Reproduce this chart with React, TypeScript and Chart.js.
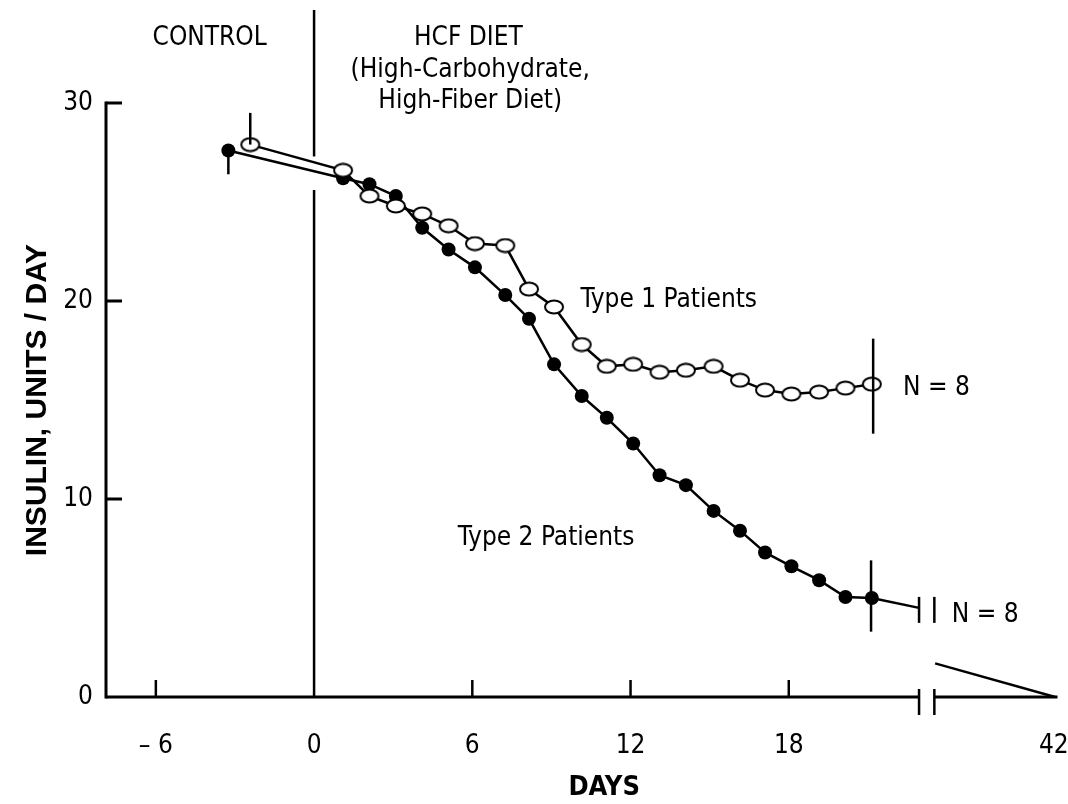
import React, { useEffect, useRef } from "react";
import { Chart, registerables } from "chart.js";

Chart.register(...registerables);

// ---------- data ----------
const days = [1.1, 2.1, 3.1, 4.1, 5.1, 6.1, 7.25, 8.15, 9.1, 10.15, 11.1, 12.1, 13.1, 14.1, 15.15, 16.15, 17.1, 18.1, 19.15, 20.15, 21.15];
const type1ControlDay = -2.42;
const type2ControlDay = -3.25;
const type1ControlValue = 27.9;
const type2ControlValue = 27.6;
const type1Values = [26.6, 25.3, 24.8, 24.4, 23.8, 22.9, 22.8, 20.6, 19.7, 17.8, 16.7, 16.8, 16.4, 16.5, 16.7, 16.0, 15.5, 15.3, 15.4, 15.6, 15.8];
const type2Values = [26.2, 25.9, 25.3, 23.7, 22.6, 21.7, 20.3, 19.1, 16.8, 15.2, 14.1, 12.8, 11.2, 10.7, 9.4, 8.4, 7.3, 6.6, 5.9, 5.05, 5.0];

// broken axis: day 42 sits at axis position 28
const xTickValues = [-6, 0, 6, 12, 18, 42];
const xTickLabels = ["– 6", "0", "6", "12", "18", "42"];
const day42AxisPos = 28.05;
const axisBreakPos = [22.94, 23.52];
const type2TailX = [21.15, 22.94];
const type2TailY = [5.0, 4.5];
const type2FinalX = [23.55, 28.1];
const type2FinalY = [1.7, 0];

// error bars
const errType1X = [-2.42, 21.2];
const errType1Low = [27.9, 13.3];
const errType1High = [29.5, 18.1];
const errType2X = [-3.25, 21.12];
const errType2Low = [26.4, 3.3];
const errType2High = [27.6, 6.9];

// annotations
const noteTexts = ["CONTROL", "HCF DIET", "(High-Carbohydrate,", "High-Fiber Diet)", "Type 1 Patients", "Type 2 Patients", "N = 8", "N = 8"];
const noteX = [-3.96, 5.85, 5.92, 5.92, 13.45, 8.8, 23.6, 25.45];
const noteY = [33.28, 33.28, 31.67, 30.1, 20.05, 8.03, 15.6, 4.14];
const xTitle = "DAYS";
const xTitlePos = { x: 11.0, y: -4.62 };

const X_MIN = -7.89;
const X_MAX = 28.19;

const NARROW = "'Liberation Sans Narrow', 'Arial Narrow', 'DejaVu Sans Condensed', 'Liberation Sans', sans-serif";
const WIDE = "'Liberation Sans', Arial, sans-serif";

function makeOpenMarker(): HTMLCanvasElement {
  const c = document.createElement("canvas");
  c.width = 22;
  c.height = 16;
  const g = c.getContext("2d")!;
  g.beginPath();
  g.ellipse(11, 8, 9.0, 6.5, 0, 0, Math.PI * 2);
  g.fillStyle = "#fff";
  g.fill();
  g.lineWidth = 2;
  g.strokeStyle = "#000";
  g.stroke();
  return c;
}

const decorPlugin = {
  id: "decor",
  afterDatasetsDraw(chart: any) {
    const ctx = chart.ctx as CanvasRenderingContext2D;
    const xs = chart.scales.x;
    const ys = chart.scales.y;
    const X = (v: number) => xs.getPixelForValue(v);
    const Y = (v: number) => ys.getPixelForValue(v);
    const line = (x1: number, y1: number, x2: number, y2: number) => {
      ctx.beginPath();
      ctx.moveTo(x1, y1);
      ctx.lineTo(x2, y2);
      ctx.stroke();
    };
    ctx.save();
    ctx.strokeStyle = "#000";
    ctx.lineCap = "butt";

    // y axis
    ctx.lineWidth = 3;
    line(X(X_MIN), Y(30) - 1.5, X(X_MIN), Y(0) + 1.5);
    for (const v of [10, 20, 30]) line(X(X_MIN), Y(v), X(X_MIN) + 16, Y(v));

    // x axis with break
    line(X(X_MIN), Y(0), X(axisBreakPos[0]), Y(0));
    line(X(axisBreakPos[1]), Y(0), X(X_MAX), Y(0));
    ctx.lineWidth = 2.5;
    for (const b of axisBreakPos) line(X(b), Y(0) - 8, X(b), Y(0) + 18);
    for (const v of [-6, 6, 12, 18]) line(X(v), Y(0), X(v), Y(0) - 17);

    // divider at day 0 (gap where the lines pass)
    line(X(0), Y(34.7), X(0), Y(27.3));
    line(X(0), Y(25.6), X(0), Y(0));

    // error bars
    errType1X.forEach((x, i) => line(X(x), Y(errType1Low[i]), X(x), Y(errType1High[i])));
    errType2X.forEach((x, i) => line(X(x), Y(errType2Low[i]), X(x), Y(errType2High[i])));

    // break marks on the type 2 line
    const yb = Y(type2TailY[1]);
    for (const b of axisBreakPos) line(X(b), yb - 11, X(b), yb + 15);

    // texts
    ctx.fillStyle = "#000";
    ctx.textAlign = "center";
    ctx.textBaseline = "middle";
    ctx.font = `26px ${NARROW}`;
    noteTexts.forEach((t, i) => ctx.fillText(t, X(noteX[i]), Y(noteY[i])));
    ctx.font = `bold 27px ${NARROW}`;
    ctx.fillText(xTitle, X(xTitlePos.x), Y(xTitlePos.y));
    ctx.restore();
  },
};

export default function App() {
  const ref = useRef<HTMLCanvasElement | null>(null);

  useEffect(() => {
    document.body.style.margin = "0";
    const canvas = ref.current!;
    const openMarker = makeOpenMarker();

    const type1Data = [{ x: type1ControlDay, y: type1ControlValue }, ...days.map((d, i) => ({ x: d, y: type1Values[i] }))];
    const type2Data = [{ x: type2ControlDay, y: type2ControlValue }, ...days.map((d, i) => ({ x: d, y: type2Values[i] }))];
    const tailData = type2TailX.map((x, i) => ({ x, y: type2TailY[i] }));
    const finalData = type2FinalX.map((x, i) => ({ x, y: type2FinalY[i] }));

    const chart = new Chart(canvas, {
      type: "line",
      data: {
        datasets: [
          {
            label: "Type 1 Patients",
            data: type1Data,
            borderColor: "#000",
            borderWidth: 2.5,
            pointStyle: openMarker as any,
            pointRadius: 8,
            tension: 0,
            clip: false as any,
          },
          {
            label: "Type 2 Patients",
            data: type2Data,
            borderColor: "#000",
            borderWidth: 2.5,
            pointStyle: "circle",
            pointRadius: 7,
            pointBackgroundColor: "#000",
            pointBorderWidth: 0,
            tension: 0,
            clip: false as any,
          },
          {
            label: "tail",
            data: tailData,
            borderColor: "#000",
            borderWidth: 2.5,
            pointRadius: 0,
            clip: false as any,
          },
          {
            label: "final",
            data: finalData,
            borderColor: "#000",
            borderWidth: 2.5,
            pointRadius: 0,
            clip: false as any,
          },
        ],
      },
      options: {
        animation: false,
        responsive: false,
        events: [],
        layout: { padding: { top: 103, left: 0, right: 6, bottom: 0 } },
        plugins: { legend: { display: false }, tooltip: { enabled: false } },
        scales: {
          x: {
            type: "linear",
            min: X_MIN,
            max: X_MAX,
            grid: { display: false, drawTicks: false },
            border: { display: false },
            afterBuildTicks: (scale: any) => {
              scale.ticks = xTickValues.map((v) => ({ value: v === 42 ? day42AxisPos : v }));
            },
            afterFit: (scale: any) => {
              scale.height = 107;
              scale.paddingLeft = 0;
              scale.paddingRight = 0;
            },
            ticks: {
              autoSkip: false,
              maxRotation: 0,
              padding: 34,
              color: "#000",
              font: { family: NARROW, size: 26 },
              callback: (_v: any, i: number) => xTickLabels[i],
            },
            title: { display: false },
          },
          y: {
            type: "linear",
            min: 0,
            max: 30,
            grid: { display: false, drawTicks: false },
            border: { display: false },
            ticks: {
              stepSize: 10,
              padding: 13,
              color: "#000",
              font: { family: NARROW, size: 26 },
            },
            afterFit: (scale: any) => {
              scale.width = 106;
              scale.paddingTop = 0;
              scale.paddingBottom = 0;
            },
            title: {
              display: true,
              text: "INSULIN, UNITS / DAY",
              color: "#000",
              font: { family: WIDE, size: 30, weight: "bold" },
              padding: { top: 20, bottom: 0 },
            },
          },
        },
      },
      plugins: [decorPlugin],
    } as any);

    return () => chart.destroy();
  }, []);

  return (
    <canvas
      ref={ref}
      width={1068}
      height={804}
      style={{ display: "block", position: "absolute", left: 0, top: 0, background: "#fff" }}
    />
  );
}
